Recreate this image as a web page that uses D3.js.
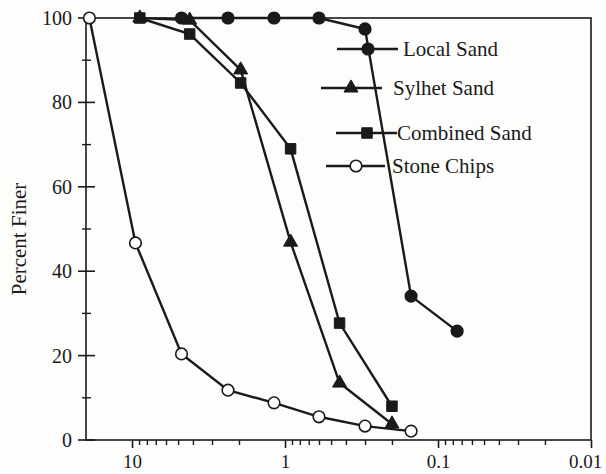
<!DOCTYPE html>
<html>
<head>
<meta charset="utf-8">
<script src="https://cdn.jsdelivr.net/npm/d3@7"></script>
<style>
  body { margin: 0; background: #fdfdfc; }
  svg text { font-family: "Liberation Serif", "Times New Roman", serif; fill: #1a1a1a; }
</style>
</head>
<body>
<script>
// grain size (mm) vs percent finer
const localSize = [4.75, 2.36, 1.18, 0.6, 0.3, 0.15, 0.075];
const localFiner = [100, 100, 100, 100, 97.4, 34.1, 25.8];

const sylhetSize = [8.9, 4.2, 1.95, 0.92, 0.44, 0.2];
const sylhetFiner = [100, 99.5, 87.7, 46.9, 13.5, 3.8];

const combinedSize = [8.9, 4.2, 1.95, 0.92, 0.44, 0.2];
const combinedFiner = [100, 96.2, 84.6, 69, 27.7, 8];

const stoneSize = [19, 9.5, 4.75, 2.36, 1.18, 0.6, 0.3, 0.15];
const stoneFiner = [100, 46.7, 20.4, 11.8, 8.8, 5.5, 3.3, 2.1];

const seriesNames = ["Local Sand", "Sylhet Sand", "Combined Sand", "Stone Chips"];
const xMajorTicks = [10, 1, 0.1, 0.01];
const yTicks = [0, 20, 40, 60, 80, 100];
const yMinorTicks = [10, 30, 50, 70, 90];

const width = 606, height = 474;
const plotLeft = 86, plotRight = 591, plotTop = 18, plotBottom = 440;
const ink = "#1a1a1a";

const svg = d3.select("body").append("svg")
    .attr("width", width)
    .attr("height", height);

const x = d3.scaleLog().domain([20, 0.01]).range([plotLeft, plotRight]);
const y = d3.scaleLinear().domain([0, 100]).range([plotBottom, plotTop]);

// frame
svg.append("rect")
    .attr("x", plotLeft).attr("y", plotTop)
    .attr("width", plotRight - plotLeft).attr("height", plotBottom - plotTop)
    .attr("fill", "none").attr("stroke", ink).attr("stroke-width", 1.6);

// x axis: major + minor ticks
const xMinor = [];
[1, 0.1, 0.01].forEach(dec => { for (let k = 2; k <= 9; k++) xMinor.push(dec * k); });

svg.append("g")
    .attr("transform", `translate(0,${plotBottom})`)
    .call(d3.axisBottom(x).tickValues(xMinor).tickSize(5).tickFormat(""))
    .call(g => g.select(".domain").remove())
    .call(g => g.selectAll("line").attr("stroke", ink).attr("stroke-width", 1.4));

svg.append("g")
    .attr("transform", `translate(0,${plotBottom})`)
    .call(d3.axisBottom(x).tickValues(xMajorTicks).tickSize(8).tickPadding(7)
        .tickFormat(d => d >= 1 ? d3.format("d")(d) : String(d)))
    .call(g => g.select(".domain").remove())
    .call(g => g.selectAll("line").attr("stroke", ink).attr("stroke-width", 1.6))
    .call(g => g.selectAll("text").attr("font-size", 19).attr("fill", ink)
        .style("font-family", "'Liberation Serif', serif")
        .attr("dx", d => d === 0.01 ? -6 : 0));

// y axis ticks cross the axis line
svg.append("g").selectAll("line")
    .data(yTicks).join("line")
    .attr("x1", plotLeft - 8).attr("x2", plotLeft + 9)
    .attr("y1", d => y(d)).attr("y2", d => y(d))
    .attr("stroke", ink).attr("stroke-width", 1.6);

svg.append("g").selectAll("line")
    .data(yMinorTicks).join("line")
    .attr("x1", plotLeft - 4).attr("x2", plotLeft + 5)
    .attr("y1", d => y(d)).attr("y2", d => y(d))
    .attr("stroke", ink).attr("stroke-width", 1.4);

svg.append("g").selectAll("text")
    .data(yTicks).join("text")
    .attr("x", plotLeft - 14)
    .attr("y", d => y(d))
    .attr("dy", "0.35em")
    .attr("text-anchor", "end")
    .attr("font-size", 20)
    .text(d => d);

svg.append("text")
    .attr("transform", `translate(26,${(plotTop + plotBottom) / 2 + 10}) rotate(-90)`)
    .attr("text-anchor", "middle")
    .attr("font-size", 21)
    .text("Percent Finer");

// series
const series = [
  { name: seriesNames[0], pts: d3.zip(localSize, localFiner), shape: "circle", fill: ink },
  { name: seriesNames[1], pts: d3.zip(sylhetSize, sylhetFiner), shape: "triangle", fill: ink },
  { name: seriesNames[2], pts: d3.zip(combinedSize, combinedFiner), shape: "square", fill: ink },
  { name: seriesNames[3], pts: d3.zip(stoneSize, stoneFiner), shape: "circle", fill: "#fff" }
];

const line = d3.line().x(d => x(d[0])).y(d => y(d[1]));

function marker(sel, s) {
  if (s.shape === "circle") {
    sel.append("circle").attr("r", 5.8)
      .attr("fill", s.fill).attr("stroke", ink).attr("stroke-width", 1.6);
  } else if (s.shape === "triangle") {
    sel.append("path").attr("d", d3.symbol(d3.symbolTriangle, 85)())
      .attr("fill", s.fill).attr("stroke", ink).attr("stroke-width", 1);
  } else {
    sel.append("path").attr("d", d3.symbol(d3.symbolSquare, 110)())
      .attr("fill", s.fill).attr("stroke", ink).attr("stroke-width", 1);
  }
}

series.forEach(s => {
  svg.append("path")
      .datum(s.pts)
      .attr("d", line)
      .attr("fill", "none")
      .attr("stroke", ink)
      .attr("stroke-width", 2.4);
});

series.forEach(s => {
  svg.append("g").selectAll("g")
      .data(s.pts).join("g")
      .attr("transform", d => `translate(${x(d[0])},${y(d[1])})`)
      .each(function() { marker(d3.select(this), s); });
});

// legend
const legendPos = [
  { x1: 337, x2: 398, mx: 368, y: 49, tx: 403 },
  { x1: 321, x2: 382, mx: 351, y: 88, tx: 393 },
  { x1: 336, x2: 397, mx: 367, y: 133, tx: 397 },
  { x1: 326, x2: 385, mx: 356, y: 166, tx: 392 }
];

series.forEach((s, i) => {
  const p = legendPos[i];
  const g = svg.append("g");
  g.append("line")
      .attr("x1", p.x1).attr("x2", p.x2)
      .attr("y1", p.y).attr("y2", p.y)
      .attr("stroke", ink).attr("stroke-width", 2.4);
  marker(g.append("g").attr("transform", `translate(${p.mx},${p.y})`), s);
  g.append("text")
      .attr("x", p.tx).attr("y", p.y)
      .attr("dy", "0.35em")
      .attr("font-size", 21)
      .text(s.name);
});
</script>
</body>
</html>
